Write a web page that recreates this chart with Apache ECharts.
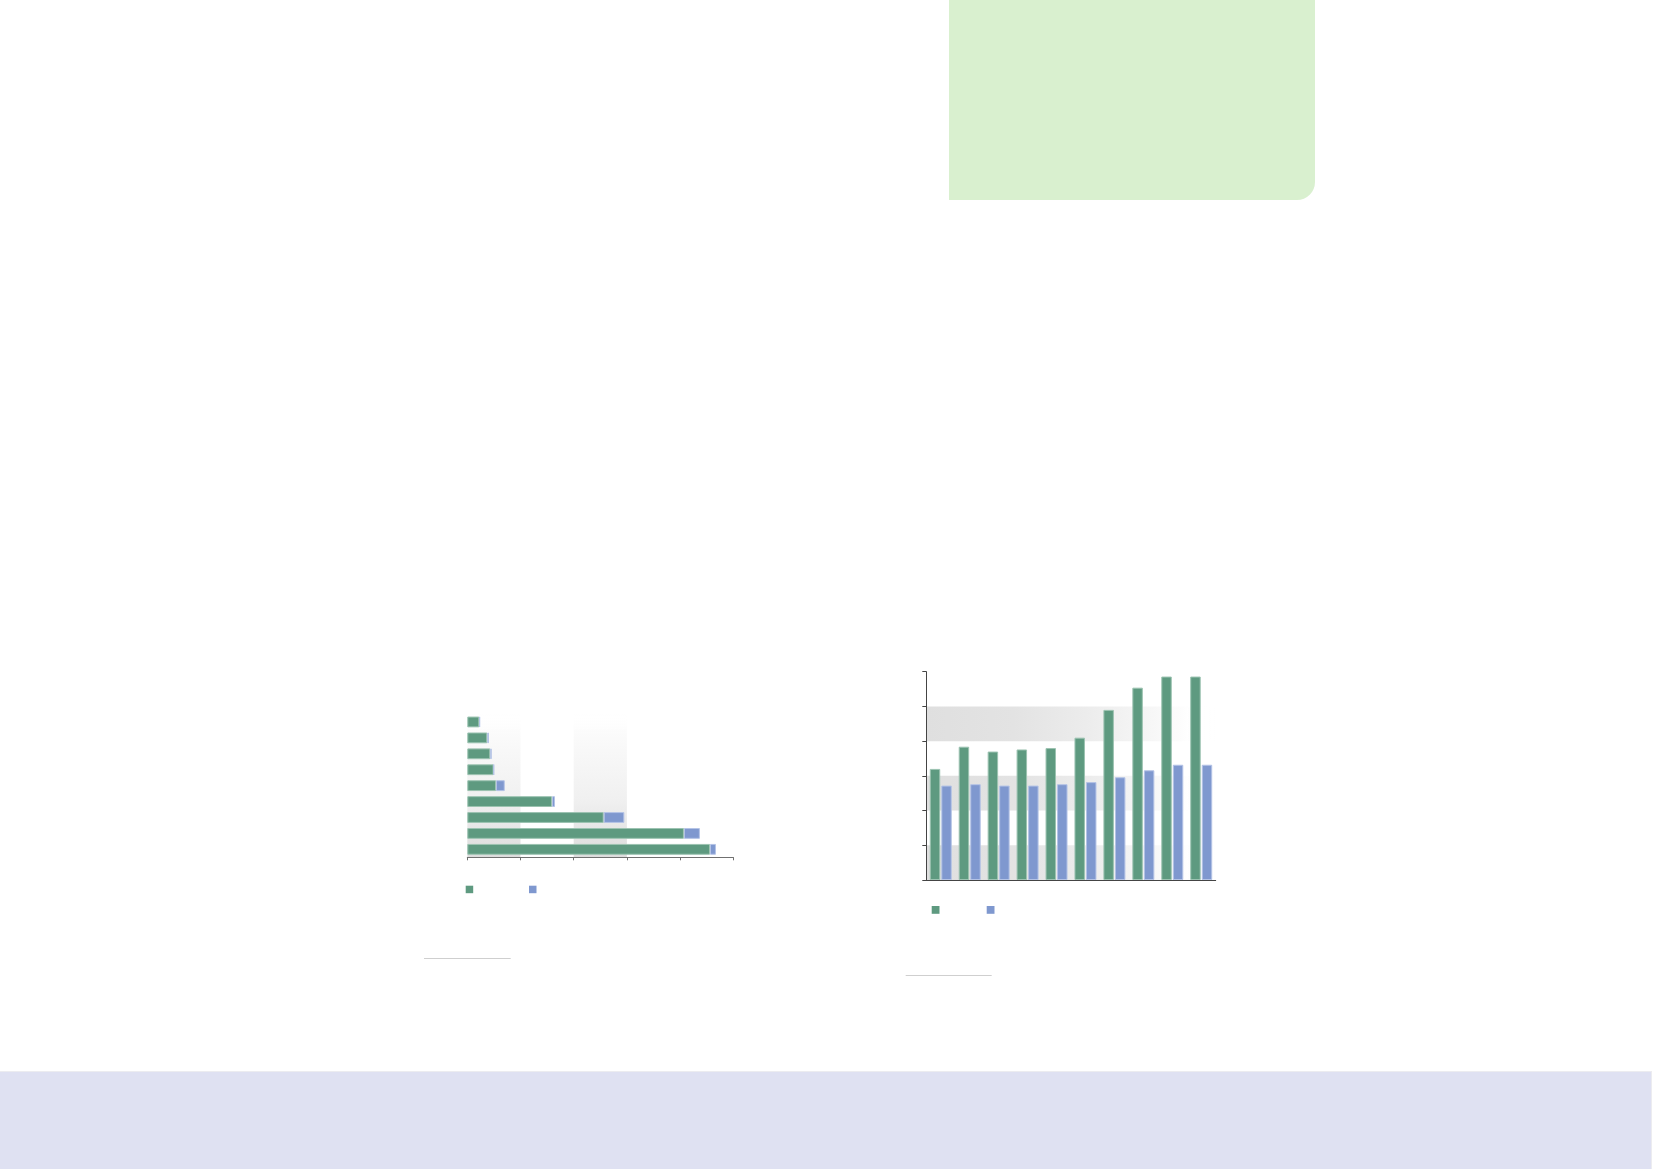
<!DOCTYPE html>
<html>
<head>
<meta charset="utf-8">
<script src="https://cdn.jsdelivr.net/npm/echarts@6/dist/echarts.min.js"></script>
<style>
  html, body { margin: 0; padding: 0; background: #ffffff; }
  body { width: 1654px; height: 1169px; position: relative; overflow: hidden; font-family: "Noto Sans", sans-serif; }
  #greenBox { position: absolute; left: 949px; top: 0; width: 366px; height: 200px; background: #d9f0cf; border-bottom-right-radius: 18px; }
  #bottomBand { position: absolute; left: 0; top: 1071px; width: 1652px; height: 98px; background: #dfe1f2; border-top: 1px solid #ececf0; border-right: 1px solid #ececf0; box-sizing: border-box; }
  #chart { position: absolute; left: 0; top: 0; width: 1654px; height: 1169px; }
</style>
</head>
<body>
<div id="greenBox"></div>
<div id="bottomBand"></div>
<div id="chart"></div>
<script>
// ---- data: horizontal stacked bar chart (top to bottom) ----
const hCategories = ['1', '2', '3', '4', '5', '6', '7', '8', '9'];
const hGreen = [11.3, 18.8, 21.6, 24.7, 27.0, 79.6, 128.2, 203.6, 228.1];
const hBlue = [0.6, 1.5, 1.3, 0.3, 8.2, 2.8, 19.4, 15.0, 5.6];
const hAxisMin = 0, hAxisMax = 250, hAxisInterval = 50;

// ---- data: vertical grouped bar chart ----
const vCategories = ['1', '2', '3', '4', '5', '6', '7', '8', '9', '10'];
const vGreen = [160, 192, 185, 188, 190, 205, 245, 277, 293, 293];
const vBlue = [136, 138, 136, 136, 138, 141, 148, 158, 166, 166];
const vAxisMin = 0, vAxisMax = 300, vAxisInterval = 50;

const GREEN = '#5e9a80';
const BLUE = '#7f98cf';
const GREEN_EDGE = '#9cc3b1';
const BLUE_EDGE = '#b4c3e6';

const vGrad = new echarts.graphic.LinearGradient(0, 0, 0, 1, [
  { offset: 0, color: 'rgba(255,255,255,0)' },
  { offset: 0.13, color: '#fbfbfb' },
  { offset: 0.6, color: '#f0f0f0' },
  { offset: 1, color: '#dcdcdc' }
]);
const hGrad = new echarts.graphic.LinearGradient(0, 0, 1, 0, [
  { offset: 0, color: '#dfdfdf' },
  { offset: 0.3, color: '#e3e3e3' },
  { offset: 0.55, color: '#ececec' },
  { offset: 0.75, color: '#f5f5f5' },
  { offset: 0.9, color: '#fefefe' },
  { offset: 1, color: 'rgba(255,255,255,0)' }
]);
const clear = 'rgba(255,255,255,0)';

const chart = echarts.init(document.getElementById('chart'), null, { renderer: 'canvas' });

const emptyText = function () { return ''; };
function legendAt(name, color, left, top, size) {
  return {
    data: [name], left: left, top: top, padding: 0,
    itemWidth: size, itemHeight: size, icon: 'rect',
    itemStyle: { color: color, borderWidth: 0 },
    formatter: emptyText, selectedMode: false
  };
}

chart.setOption({
  animation: false,
  backgroundColor: 'transparent',
  legend: [
    legendAt('H-A', GREEN, 465.7, 885.7, 7.5),
    legendAt('H-B', BLUE, 529, 885.7, 7.5),
    legendAt('V-A', GREEN, 931.7, 906, 7.8),
    legendAt('V-B', BLUE, 986.7, 906, 7.8)
  ],
  grid: [
    { left: 467.3, right: 920.7, top: 714, bottom: 311.7, containLabel: false },
    { left: 926.3, right: 438.3, top: 671.7, bottom: 289, containLabel: false }
  ],
  xAxis: [
    {
      gridIndex: 0, type: 'value', min: hAxisMin, max: hAxisMax, interval: hAxisInterval,
      axisLine: { show: true, lineStyle: { color: '#707070', width: 1 } },
      axisTick: { show: true, length: 3, lineStyle: { color: '#707070' } },
      axisLabel: { show: false },
      splitLine: { show: false },
      splitArea: { show: true, areaStyle: { color: [vGrad, clear, vGrad, clear, clear] } }
    },
    {
      gridIndex: 1, type: 'category', data: vCategories,
      axisLine: { show: true, lineStyle: { color: '#444444', width: 1 } },
      axisTick: { show: false },
      axisLabel: { show: false }
    }
  ],
  yAxis: [
    {
      gridIndex: 0, type: 'category', data: hCategories, inverse: true,
      axisLine: { show: false }, axisTick: { show: false }, axisLabel: { show: false }
    },
    {
      gridIndex: 1, type: 'value', min: vAxisMin, max: vAxisMax, interval: vAxisInterval,
      axisLine: { show: true, lineStyle: { color: '#444444', width: 1 } },
      axisTick: { show: true, length: 4, lineStyle: { color: '#444444' } },
      axisLabel: { show: false },
      splitLine: { show: false },
      splitArea: { show: true, areaStyle: { color: [hGrad, clear] } }
    }
  ],
  series: [
    {
      name: 'H-A', type: 'bar', xAxisIndex: 0, yAxisIndex: 0, stack: 'h',
      data: hGreen, barCategoryGap: '32%',
      itemStyle: { color: GREEN, borderColor: GREEN_EDGE, borderWidth: 1 }
    },
    {
      name: 'H-B', type: 'bar', xAxisIndex: 0, yAxisIndex: 0, stack: 'h',
      data: hBlue, barCategoryGap: '32%',
      itemStyle: { color: BLUE, borderColor: BLUE_EDGE, borderWidth: 1 }
    },
    {
      name: 'V-A', type: 'bar', xAxisIndex: 1, yAxisIndex: 1,
      data: vGreen, barCategoryGap: '24%', barGap: '10%',
      itemStyle: { color: GREEN, borderColor: GREEN_EDGE, borderWidth: 1 }
    },
    {
      name: 'V-B', type: 'bar', xAxisIndex: 1, yAxisIndex: 1,
      data: vBlue, barCategoryGap: '24%', barGap: '10%',
      itemStyle: { color: BLUE, borderColor: BLUE_EDGE, borderWidth: 1 }
    }
  ],
  graphic: [
    { type: 'line', silent: true, shape: { x1: 424, y1: 958.5, x2: 510.7, y2: 958.5 }, style: { stroke: '#cfcfcf', lineWidth: 1 } },
    { type: 'line', silent: true, shape: { x1: 905.7, y1: 975.5, x2: 991.7, y2: 975.5 }, style: { stroke: '#cfcfcf', lineWidth: 1 } }
  ]
});
</script>
</body>
</html>
